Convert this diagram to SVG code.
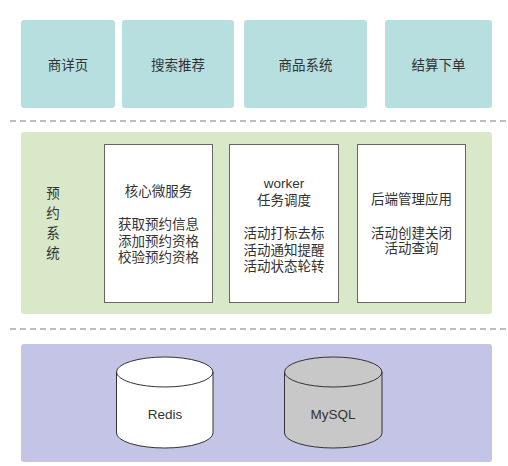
<svg xmlns="http://www.w3.org/2000/svg" width="508" height="466" viewBox="0 0 508 466">
<style>
.top{fill:#b8dfe0;}
.t{font-family:"Liberation Sans","Noto Sans CJK SC",sans-serif;font-size:13.5px;fill:#333;text-anchor:middle;}
.box{fill:#fff;stroke:#666;stroke-width:1;}
.dash{stroke:#aaa;stroke-width:1.5;stroke-dasharray:6 4;fill:none;}
.cyl{stroke:#333;stroke-width:1;}
</style>
<rect width="508" height="466" fill="#fff"/>
<g id="n-shangxiang"><rect class="top" x="21" y="20" width="94" height="88" rx="3"/><text class="t" x="68" y="70">商详页</text></g>
<g id="n-sousuo"><rect class="top" x="122" y="20" width="112" height="88" rx="3"/><text class="t" x="178" y="70">搜索推荐</text></g>
<g id="n-shangpin"><rect class="top" x="244" y="20" width="123" height="88" rx="3"/><text class="t" x="305.5" y="70">商品系统</text></g>
<g id="n-jiesuan"><rect class="top" x="385" y="20" width="107" height="88" rx="3"/><text class="t" x="438.5" y="70">结算下单</text></g>
<g id="connectors">
<line class="dash" x1="10" y1="121" x2="506" y2="121"/>
<line class="dash" x1="10" y1="329" x2="506" y2="329"/>
</g>
<g id="n-yuyue">
<rect x="21" y="132" width="471" height="182" rx="3" fill="#d8e8c8"/>
<text class="t"><tspan x="53" y="198">预</tspan><tspan x="53" y="218">约</tspan><tspan x="53" y="238">系</tspan><tspan x="53" y="258">统</tspan></text>
</g>
<g id="n-core">
<rect class="box" x="104.5" y="144.5" width="108" height="158"/>
<text class="t" x="158.5" y="196">核心微服务</text>
<text class="t"><tspan x="158.5" y="229">获取预约信息</tspan><tspan x="158.5" y="245.5">添加预约资格</tspan><tspan x="158.5" y="262">校验预约资格</tspan></text>
</g>
<g id="n-worker">
<rect class="box" x="229.5" y="144.5" width="109" height="158"/>
<text class="t"><tspan x="284" y="188">worker</tspan><tspan x="284" y="205">任务调度</tspan></text>
<text class="t"><tspan x="284" y="238">活动打标去标</tspan><tspan x="284" y="254.5">活动通知提醒</tspan><tspan x="284" y="271">活动状态轮转</tspan></text>
</g>
<g id="n-admin">
<rect class="box" x="357.5" y="144.5" width="108" height="158"/>
<text class="t" x="411.5" y="204">后端管理应用</text>
<text class="t"><tspan x="411.5" y="237.5">活动创建关闭</tspan><tspan x="411.5" y="253">活动查询</tspan></text>
</g>
<g id="n-storage"><rect x="21" y="344" width="471" height="118" rx="3" fill="#c4c4e6"/></g>
<g id="n-redis">
<path class="cyl" fill="#fff" d="M116.5 372 V433 A48.25 15 0 0 0 213 433 V372 A48.25 15 0 0 0 116.5 372 Z"/>
<path class="cyl" fill="none" d="M116.5 372 A48.25 15 0 0 0 213 372"/>
<text class="t" x="165" y="419">Redis</text>
</g>
<g id="n-mysql">
<path class="cyl" fill="#c8c8c8" d="M284.5 372 V433 A48.75 15 0 0 0 382 433 V372 A48.75 15 0 0 0 284.5 372 Z"/>
<path class="cyl" fill="none" d="M284.5 372 A48.75 15 0 0 0 382 372"/>
<text class="t" x="333" y="419">MySQL</text>
</g>
</svg>
